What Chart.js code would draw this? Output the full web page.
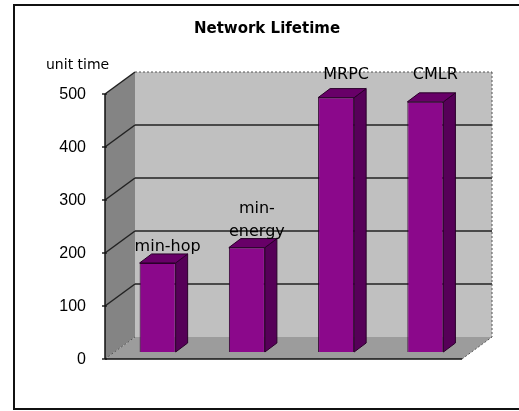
<!DOCTYPE html>
<html>
<head>
<meta charset="utf-8">
<script src="https://cdn.jsdelivr.net/npm/chart.js@4/dist/chart.umd.min.js"></script>
<style>
  html, body { margin: 0; padding: 0; background: #fff; }
</style>
</head>
<body>
<canvas id="lifetimeChart" width="519" height="411"></canvas>
<script>
// Data
const categories = ["min-hop", ["min-", "energy"], "MRPC", "CMLR"];
const lifetimeValues = [168, 197, 480, 472];
const tickValues = [0, 100, 200, 300, 400, 500];
const unitLabel = "unit time";

// 3D look: offsets of the front and back planes from the bar plane
const FRONT = { dx: -8, dy: 7 };
const BACK = { dx: 22, dy: -15 };
const BAR_DEPTH = { dx: 12, dy: -9 };
const LABEL_TOP_ROW = 79; // labels of tall bars share one row under the plot top

function poly(ctx, pts) {
    ctx.beginPath();
    ctx.moveTo(pts[0][0], pts[0][1]);
    for (let i = 1; i < pts.length; i++) ctx.lineTo(pts[i][0], pts[i][1]);
    ctx.closePath();
}

function line(ctx, x0, y0, x1, y1) {
    ctx.beginPath();
    ctx.moveTo(x0, y0);
    ctx.lineTo(x1, y1);
    ctx.stroke();
}

// walls, floor, grid and frame
const boxPlugin = {
    id: "box3d",
    beforeDatasetsDraw(chart) {
        const { ctx, chartArea: a, scales: { y } } = chart;
        const lo = tickValues[0], hi = tickValues[tickValues.length - 1];
        const fl = a.left + FRONT.dx, fr = a.right + FRONT.dx;
        const bl = a.left + BACK.dx, br = a.right + BACK.dx;
        const fy = v => y.getPixelForValue(v) + FRONT.dy;
        const by = v => y.getPixelForValue(v) + BACK.dy;

        ctx.save();
        // outer frame
        ctx.strokeStyle = "#111";
        ctx.lineWidth = 2;
        ctx.strokeRect(14, 5, 520, 404);

        // back wall
        ctx.fillStyle = "#c0c0c0";
        ctx.fillRect(bl, by(hi), br - bl, by(lo) - by(hi));
        // side wall
        ctx.fillStyle = "#848484";
        poly(ctx, [[fl, fy(lo)], [fl, fy(hi)], [bl, by(hi)], [bl, by(lo)]]);
        ctx.fill();
        // floor
        ctx.fillStyle = "#9c9c9c";
        poly(ctx, [[fl, fy(lo)], [fr, fy(lo)], [br, by(lo)], [bl, by(lo)]]);
        ctx.fill();

        // grid on back wall and side wall
        ctx.strokeStyle = "#222";
        ctx.lineWidth = 1.5;
        tickValues.forEach(v => {
            if (v !== lo && v !== hi) line(ctx, bl, by(v), br, by(v));
            if (v !== lo) line(ctx, fl, fy(v), bl, by(v));
            line(ctx, fl - 3, fy(v), fl + 2, fy(v));
        });
        ctx.setLineDash([2, 2]);
        ctx.strokeStyle = "#555";
        ctx.lineWidth = 1;
        line(ctx, fl, fy(lo), bl, by(lo));
        line(ctx, bl, by(hi), br, by(hi));
        line(ctx, br, by(hi), br, by(lo));
        line(ctx, fr, fy(lo), br, by(lo));
        ctx.setLineDash([]);

        // front edges
        ctx.strokeStyle = "#111";
        ctx.lineWidth = 1.5;
        line(ctx, fl, fy(lo), fl, fy(hi));
        line(ctx, fl, fy(lo), fr, fy(lo));

        // unit text
        ctx.fillStyle = "#000";
        ctx.font = "14px 'DejaVu Sans'";
        ctx.textAlign = "left";
        ctx.textBaseline = "middle";
        ctx.fillText(unitLabel, 46, 65);
        ctx.restore();
    },
    afterDatasetsDraw(chart) {
        const { ctx } = chart;
        const meta = chart.getDatasetMeta(0);
        const d = BAR_DEPTH;
        ctx.save();
        meta.data.forEach((bar, i) => {
            const { x, y, base, width } = bar.getProps(["x", "y", "base", "width"], true);
            const x0 = x - width / 2, x1 = x + width / 2;
            ctx.strokeStyle = "#2a002a";
            ctx.lineWidth = 1;
            // right side
            ctx.fillStyle = "#560058";
            poly(ctx, [[x1, y], [x1 + d.dx, y + d.dy], [x1 + d.dx, base + d.dy], [x1, base]]);
            ctx.fill();
            ctx.stroke();
            // top
            ctx.fillStyle = "#680068";
            poly(ctx, [[x0, y], [x0 + d.dx, y + d.dy], [x1 + d.dx, y + d.dy], [x1, y]]);
            ctx.fill();
            ctx.stroke();

            // category label above the bar
            const cat = categories[i];
            const lines = Array.isArray(cat) ? cat : [cat];
            let baseLine = y - 12;
            if (baseLine < 100) baseLine = LABEL_TOP_ROW;
            ctx.fillStyle = "#000";
            ctx.font = "16px 'DejaVu Sans'";
            ctx.textAlign = "center";
            ctx.textBaseline = "alphabetic";
            lines.forEach((t, k) => {
                ctx.fillText(t, x + 10, baseLine - (lines.length - 1 - k) * 23);
            });
        });
        ctx.restore();
    }
};

new Chart("lifetimeChart", {
    type: "bar",
    data: {
        labels: categories,
        datasets: [{
            data: lifetimeValues,
            backgroundColor: "#8b088b",
            borderColor: "#2a002a",
            borderWidth: 1,
            barPercentage: 0.404,
            categoryPercentage: 1
        }]
    },
    options: {
        responsive: false,
        animation: false,
        devicePixelRatio: 1,
        layout: { padding: { top: 5, left: 15, right: 0, bottom: 59 } },
        plugins: {
            legend: { display: false },
            tooltip: { enabled: false },
            title: {
                display: true,
                text: "Network Lifetime",
                color: "#000",
                font: { family: "'DejaVu Sans'", size: 15, weight: "bold", lineHeight: 1.2 },
                padding: { top: 15, bottom: 49 }
            }
        },
        scales: {
            x: { display: false },
            y: {
                min: tickValues[0],
                max: tickValues[tickValues.length - 1],
                afterBuildTicks: s => { s.ticks = tickValues.map(v => ({ value: v })); },
                afterFit: s => { s.width = 98; },
                grid: { display: false, drawTicks: false },
                border: { display: false },
                ticks: {
                    padding: 27,
                    labelOffset: 8,
                    color: "#000",
                    font: { family: "'Liberation Sans'", size: 16 }
                }
            },
            yPad: {
                type: "linear",
                position: "right",
                afterFit: s => { s.width = 49; },
                grid: { display: false, drawTicks: false },
                border: { display: false },
                ticks: { display: false }
            }
        }
    },
    plugins: [boxPlugin]
});
</script>
</body>
</html>
